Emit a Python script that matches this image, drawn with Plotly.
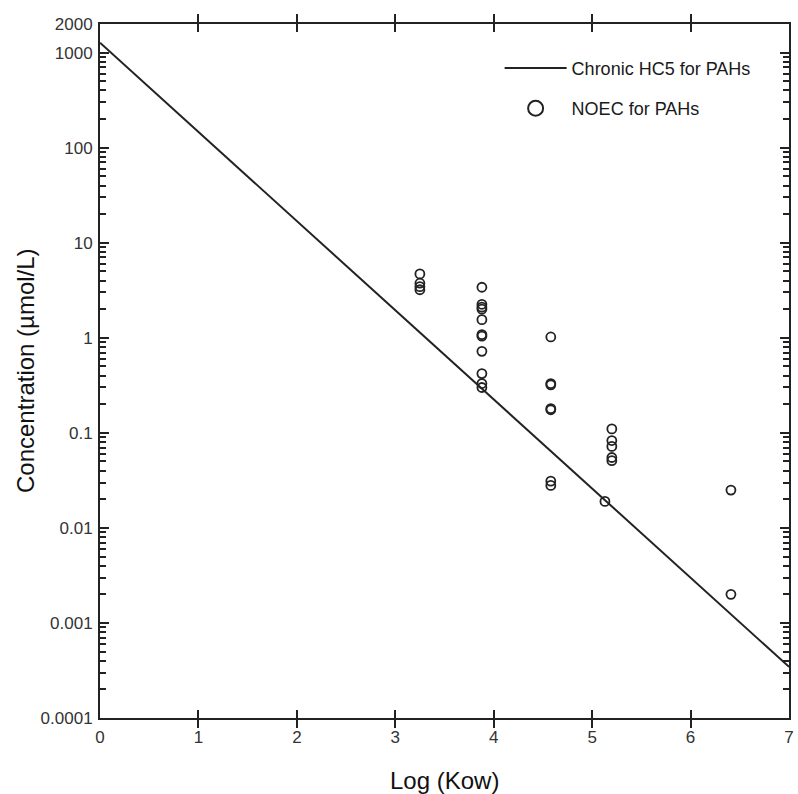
import plotly.graph_objects as go

# Chronic HC5 regression line (log Kow vs concentration, µmol/L)
hc5_logkow = [0.0, 7.0]
hc5_conc = [1270.0, 3.45e-4]

# NOEC observations for individual PAHs
noec_logkow = (
    [3.25] * 4
    + [3.88] * 11
    + [4.58] * 7
    + [5.13]
    + [5.2] * 5
    + [6.41] * 2
)
noec_conc = (
    [4.7, 3.75, 3.45, 3.2]
    + [3.4, 2.25, 2.1, 2.0, 1.55, 1.08, 1.04, 0.72, 0.42, 0.33, 0.30]
    + [1.02, 0.33, 0.32, 0.18, 0.175, 0.031, 0.028]
    + [0.019]
    + [0.11, 0.083, 0.072, 0.055, 0.051]
    + [0.025, 0.002]
)

y_tickvals = [1e-4, 1e-3, 1e-2, 1e-1, 1, 10, 100, 1000, 2000]
y_ticktext = ["0.0001", "0.001", "0.01", "0.1", "1", "10", "100", "1000", "2000"]
y_minor = [m * 10.0 ** k for k in range(-4, 3) for m in range(2, 10)]

x_tickvals = [0, 1, 2, 3, 4, 5, 6, 7]

ink = "#222222"
label_color = "#333333"
font_family = "Liberation Sans, Arial, sans-serif"
y_range = [-4, 3.30103]

fig = go.Figure()

fig.add_trace(go.Scatter(
    x=hc5_logkow, y=hc5_conc, mode="lines",
    line=dict(color=ink, width=2),
    name="Chronic HC5 for PAHs", legendgroup="hc5",
    hoverinfo="skip",
))

fig.add_trace(go.Scatter(
    x=noec_logkow, y=noec_conc, mode="markers",
    marker=dict(symbol="circle-open", size=9, color=ink, line=dict(width=1.8, color=ink)),
    name="NOEC for PAHs", legendgroup="noec", showlegend=False,
))

# legend-only entry with a larger symbol
fig.add_trace(go.Scatter(
    x=[None], y=[None], mode="markers",
    marker=dict(symbol="circle-open", size=15, color=ink, line=dict(width=2, color=ink)),
    name="NOEC for PAHs", legendgroup="noec",
))

# empty trace that carries the minor-tick axis
fig.add_trace(go.Scatter(
    x=[None], y=[None], mode="markers", yaxis="y2",
    showlegend=False, hoverinfo="skip",
))

fig.update_xaxes(
    range=[0, 7], tickmode="array", tickvals=x_tickvals,
    ticklabelstandoff=3,
    showgrid=False, zeroline=False,
    showline=True, linecolor=ink, linewidth=2, mirror="allticks",
    ticks="inside", tickcolor=ink, tickwidth=2, ticklen=8,
    tickfont=dict(family=font_family, size=17, color=label_color),
)
fig.update_yaxes(
    type="log", range=y_range,
    tickmode="array", tickvals=y_tickvals, ticktext=y_ticktext,
    ticklabelstandoff=2,
    showgrid=False, zeroline=False,
    showline=True, linecolor=ink, linewidth=2, mirror="allticks",
    ticks="inside", tickcolor=ink, tickwidth=2, ticklen=9,
    tickfont=dict(family=font_family, size=17, color=label_color),
)

fig.update_layout(
    width=798, height=794,
    margin=dict(l=100, r=4, t=24, b=76),
    plot_bgcolor="white", paper_bgcolor="white",
    font=dict(family=font_family, color="#111111"),
    showlegend=True,
    yaxis2=dict(
        overlaying="y", side="left", type="log", range=y_range,
        tickmode="array", tickvals=y_minor, showticklabels=False,
        ticks="inside", ticklen=6, tickwidth=2, tickcolor=ink,
        showline=True, linecolor=ink, linewidth=2, mirror="allticks",
        showgrid=False, zeroline=False,
    ),
    legend=dict(
        x=0.580, y=0.963, xanchor="left", yanchor="top",
        bgcolor="rgba(0,0,0,0)",
        font=dict(family=font_family, size=18, color="#1a1a1a"),
        traceorder="grouped", tracegroupgap=14,
        itemwidth=62,
    ),
    annotations=[
        dict(text="Log (Kow)", x=0.5, y=0, xref="paper", yref="paper",
             xanchor="center", yanchor="middle", yshift=-62, showarrow=False,
             font=dict(family=font_family, size=24, color="#111111")),
        dict(text="Concentration (µmol/L)", x=0, y=0.5, xref="paper", yref="paper",
             xanchor="center", yanchor="middle", xshift=-75, textangle=-90,
             showarrow=False,
             font=dict(family=font_family, size=24, color="#111111")),
    ],
)

fig.write_html("out.html")
